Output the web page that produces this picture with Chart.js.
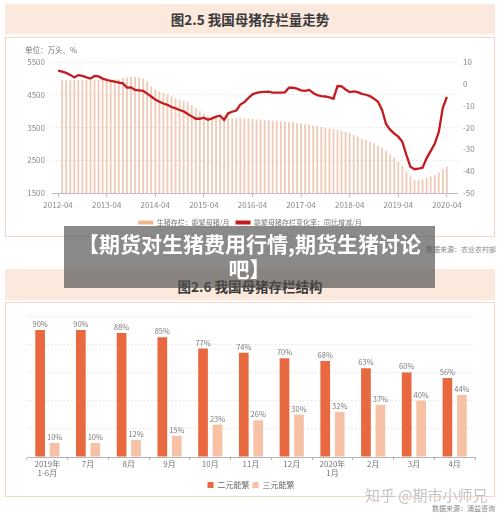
<!DOCTYPE html>
<html><head><meta charset="utf-8">
<script src="https://cdn.jsdelivr.net/npm/chart.js@4.4.0/dist/chart.umd.min.js"></script>
<style>
html,body{margin:0;padding:0;background:#fff;width:500px;height:515px;overflow:hidden;font-family:"Noto Sans CJK SC","Noto Sans",sans-serif;}
.abs{position:absolute;}
.tpanel{left:5px;width:490px;background:#fce9de;text-align:center;font-weight:bold;color:#3a3a3a;font-size:13.5px;}
.cpanel{left:5px;width:488px;border:1px solid #f5d6c6;background:#fff;}
.small{font-size:7px;color:#8a8a8a;white-space:nowrap;}
#banner{left:64px;top:226px;width:371px;height:62px;background:rgba(78,78,78,0.66);color:#fff;font-weight:bold;font-size:21px;line-height:25px;text-align:center;padding-top:5px;box-sizing:border-box;z-index:10;white-space:nowrap;}
#wm{left:365px;top:484px;font-size:15px;color:rgba(185,185,185,0.85);white-space:nowrap;z-index:5;text-shadow:0 0 1px #fff;}
canvas{position:absolute;}
</style>
</head>
<body>
<div class="abs tpanel" style="top:4px;height:30px;line-height:30px;">图2.5 我国母猪存栏量走势</div>
<div class="abs cpanel" style="top:37px;height:198px;"></div>
<canvas id="c1" width="490" height="200" style="left:5px;top:37px;"></canvas>
<div class="abs small" style="left:25px;top:44px;font-size:7.5px;color:#777;">单位：万头、%</div>
<div class="abs small" style="right:4px;top:244px;">数据来源：农业农村部</div>

<div class="abs tpanel" style="top:269px;height:31px;line-height:31px;padding-top:2px;box-sizing:border-box;">图2.6 我国母猪存栏结构</div>
<div class="abs cpanel" style="top:302px;height:193px;"></div>
<canvas id="c2" width="490" height="197" style="left:5px;top:302px;"></canvas>
<div class="abs small" style="right:5px;top:503px;">数据来源：涌益咨询</div>
<div class="abs" id="wm">知乎 @期市小师兄</div>
<div class="abs" id="banner">【期货对生猪费用行情,期货生猪讨论<br>吧】</div>

<script>
// ---------- Chart 2.5 data (monthly, 2012-04 .. 2020-04) ----------
const startYear = 2012, startMonth = 4, monthCount = 97;
const yearTickEvery = 12;
// 能繁母猪存栏（万头）
const sowStock = [
  null,4930,4935,4930,4940,4935,4945,4940,4950,4945,4950,4955,4950,4960,4960,4965,
  5000,5020,5040,5030,5010,4980,4900,4750,4660,4590,4550,4500,4440,4380,4340,4300,
  4260,4170,4090,3990,3920,3850,3820,3800,3790,3780,3785,3780,3775,3770,3765,3760,
  3750,3740,3730,3720,3710,3700,3695,3685,3670,3660,3650,3630,3610,3590,3570,3550,
  3530,3500,3480,3460,3440,3420,3390,3350,3320,3260,3200,3150,3110,3060,3010,2950,
  2880,2780,2680,2570,2450,2330,2150,2000,1890,1880,1910,1960,2000,2040,2120,2220,
  2300
];
// 能繁母猪存栏变化率：同比增减（%）
const sowYoY = [
  6.0,5.6,5.0,4.1,2.9,4.0,3.6,3.0,2.4,3.6,3.4,2.4,1.8,1.3,1.0,0.6,
  0.2,-1.7,-1.6,-2.8,-3.0,-3.2,-4.5,-5.8,-7.2,-8.2,-9.0,-9.6,-10.6,-11.2,-12.0,-12.6,
  -13.8,-14.9,-16.0,-16.0,-15.5,-16.5,-15.8,-15.0,-14.6,-16.5,-13.5,-12.8,-12.2,-9.5,-8.4,-6.5,
  -4.8,-4.1,-3.8,-3.7,-3.6,-4.0,-4.0,-4.0,-3.9,-1.8,-1.8,-2.2,-3.0,-3.2,-2.8,-4.2,
  -5.2,-5.6,-5.8,-6.2,-6.8,-1.0,-1.2,-2.6,-3.8,-3.5,-3.8,-4.6,-5.0,-5.6,-6.8,-8.2,
  -12.0,-18.5,-21.0,-22.8,-24.2,-26.5,-32.5,-38.0,-39.1,-38.8,-38.4,-34.0,-30.8,-27.5,-22.0,-11.0,
  -6.0
];
const legend1 = ['生猪存栏：能繁母猪/月','能繁母猪存栏变化率：同比增减/月'];
const stockTicks = {min:1500, max:5500, step:1000};
const yoyTicks = {min:-50, max:10, step:10};

// ---------- Chart 2.6 data ----------
const periods = [['2019年','1-6月'],'7月','8月','9月','10月','11月','12月',['2020年','1月'],'2月','3月','4月'];
const binarySows = [90,90,88,85,77,74,70,68,63,60,56];
const ternarySows = [10,10,12,15,23,26,30,32,37,40,44];
const legend2 = ['二元能繁','三元能繁'];

// month labels
const monthLabels = [];
for (let i = 0; i < monthCount; i++) {
  const t = startMonth - 1 + i;
  const y = startYear + Math.floor(t / 12), m = (t % 12) + 1;
  monthLabels.push(y + '-' + String(m).padStart(2, '0'));
}

Chart.defaults.font.family = '"Noto Sans CJK SC","Noto Sans",sans-serif';
Chart.defaults.color = '#8a8a8a';
Chart.defaults.animation = false;
Chart.defaults.plugins.tooltip.enabled = false;

const RED = '#c41a20';
new Chart(document.getElementById('c1'), {
  type: 'bar',
  data: {
    datasets: [
      { type:'bar', label: legend1[0], data: sowStock.map((v,i)=>({x:i,y:v})), yAxisID:'y',
        backgroundColor:'rgba(232,176,146,0.65)', barThickness:1.2, order:1 },
      { type:'line', label: legend1[1], data: sowYoY.map((v,i)=>({x:i,y:v})), yAxisID:'y1',
        borderColor:RED, backgroundColor:RED, borderWidth:2.3, pointRadius:0, tension:0, order:0 }
    ]
  },
  options: {
    responsive:false, devicePixelRatio:1,
    layout:{padding:{top:25,bottom:1,left:0,right:0}},
    plugins:{
      legend:{position:'bottom', labels:{font:{size:7}, color:'#777', boxWidth:15, boxHeight:4, padding:6,
        generateLabels:()=>[
          {text:legend1[0], fillStyle:'#f2b48f', strokeStyle:'#f2b48f', lineWidth:0, datasetIndex:0, hidden:false, fontColor:'#777'},
          {text:legend1[1], fillStyle:RED, strokeStyle:RED, lineWidth:0, datasetIndex:1, hidden:false, fontColor:'#777'}
        ]}}
    },
    scales:{
      x:{type:'linear', min:-1.5, max:98.5, offset:false,
        afterBuildTicks:(ax)=>{ const t=[]; for(let v=0; v<monthCount; v+=yearTickEvery) t.push({value:v}); ax.ticks=t; },
        ticks:{autoSkip:false, maxRotation:0, font:{size:8}, color:'#8a8a8a', padding:3, callback:(v)=>monthLabels[v]},
        grid:{offset:false, drawOnChartArea:false, tickLength:4, color:'#bdbdbd'},
        border:{color:'#bdbdbd'},
        afterFit:(s)=>{ s.height = 20; }
      },
      y:{position:'left', min:stockTicks.min, max:stockTicks.max,
        ticks:{stepSize:stockTicks.step, font:{size:8}, color:'#8a8a8a', padding:7, callback:(v)=>String(v)},
        grid:{color:'#e3e3e3', drawTicks:false},
        border:{display:false, dash:[1.5,2.5]},
        afterFit:(s)=>{ s.width = 47; }
      },
      y1:{position:'right', min:yoyTicks.min, max:yoyTicks.max,
        ticks:{stepSize:yoyTicks.step, font:{size:8}, color:'#8a8a8a', padding:6, callback:(v)=>String(v)},
        grid:{drawOnChartArea:false, drawTicks:false},
        border:{display:false},
        afterFit:(s)=>{ s.width = 38; }
      }
    }
  }
});

const pctLabels = {
  id:'pctLabels',
  afterDatasetsDraw(chart){
    const ctx = chart.ctx; ctx.save();
    ctx.font = '7.5px "Noto Sans CJK SC","Noto Sans",sans-serif';
    ctx.fillStyle = '#7a7a7a'; ctx.textAlign = 'center'; ctx.textBaseline = 'bottom';
    chart.data.datasets.forEach((ds,di)=>{
      chart.getDatasetMeta(di).data.forEach((bar,i)=>{ ctx.fillText(ds.data[i] + '%', bar.x, bar.y - 2); });
    });
    ctx.restore();
  }
};

new Chart(document.getElementById('c2'), {
  type:'bar',
  data:{
    labels: periods,
    datasets:[
      {label:legend2[0], data:binarySows, backgroundColor:'#e8683f', categoryPercentage:0.71, barPercentage:0.67},
      {label:legend2[1], data:ternarySows, backgroundColor:'#f6c1a4', categoryPercentage:0.71, barPercentage:0.67}
    ]
  },
  plugins:[pctLabels],
  options:{
    responsive:false, devicePixelRatio:1,
    layout:{padding:{top:14,bottom:0,left:22,right:20}},
    plugins:{legend:{position:'bottom', labels:{font:{size:8}, color:'#666', boxWidth:6, boxHeight:6, padding:3}}},
    scales:{
      x:{ticks:{font:{size:8, lineHeight:1.1}, color:'#777', padding:0, maxRotation:0, autoSkip:false},
         grid:{offset:true, drawOnChartArea:false, tickLength:3, color:'#b5b5b5'},
         border:{color:'#b5b5b5'},
         afterFit:(s)=>{ s.height = 21; }},
      y:{min:0, max:100, ticks:{stepSize:20, display:false},
         grid:{color:'#e0e0e0', drawTicks:false},
         border:{display:false, dash:[1.5,2.5]},
         afterFit:(s)=>{ s.width = 0; }}
    }
  }
});
</script>
</body></html>
